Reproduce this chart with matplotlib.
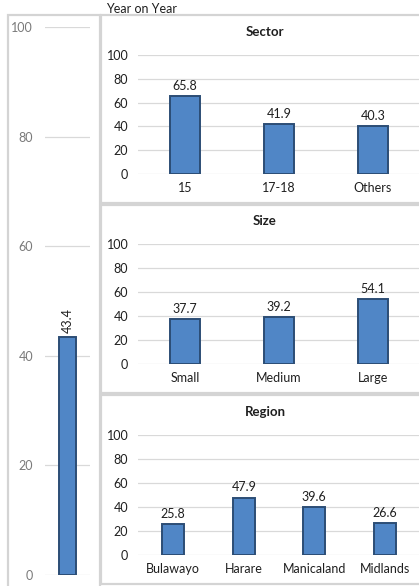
import matplotlib
matplotlib.use("Agg")
import matplotlib.pyplot as plt
from matplotlib.patches import Rectangle

plt.rcParams['font.family'] = ['Lato', 'DejaVu Sans']

# Data
overall_value = 43.4
overall_ticks = [0, 20, 40, 60, 80, 100]

sector_labels = ["15", "17-18", "Others"]
sector_values = [65.8, 41.9, 40.3]

size_labels = ["Small", "Medium", "Large"]
size_values = [37.7, 39.2, 54.1]

region_labels = ["Bulawayo", "Harare", "Manicaland", "Midlands"]
region_values = [25.8, 47.9, 39.6, 26.6]

panel_ticks = [0, 20, 40, 60, 80, 100]

W, H = 419, 586
fig = plt.figure(figsize=(W / 100, H / 100), dpi=100)

BAR_FACE = "#5086C6"
BAR_EDGE = "#2C4D75"
GRID = "#D9D9D9"
BORDER = "#D4D4D4"
TEXT = "#1F1F1F"
FS = 9


def fx(px):
    return px / W


def fy(py):
    return (H - py) / H


def panel(x0, y0, x1, y1):
    fig.add_artist(Rectangle((fx(x0), fy(y1)), fx(x1) - fx(x0), fy(y0) - fy(y1),
                             transform=fig.transFigure, fill=False,
                             edgecolor=BORDER, linewidth=1.6, zorder=0))


def style_axis(ax, tick_color, pad):
    ax.set_ylim(0, 100)
    ax.set_yticks(panel_ticks)
    ax.grid(axis="y", color=GRID, linewidth=0.9)
    ax.set_axisbelow(True)
    for s in ax.spines.values():
        s.set_visible(False)
    ax.tick_params(axis="y", length=0, pad=pad, labelsize=FS, labelcolor=tick_color)
    ax.tick_params(axis="x", length=0, pad=6, labelsize=FS, labelcolor=TEXT)


def draw_bars(ax, x, values, width):
    ax.bar(x, values, width=width, color=BAR_FACE, edgecolor=BAR_EDGE, linewidth=1.4)


# Panel frames
panel(8, 15, 100, 600)
panel(101, 15, 432, 203)
panel(101, 205, 432, 393)
panel(101, 395, 432, 584)

# Overall column
ax0 = fig.add_axes([fx(45), fy(575), fx(90) - fx(45), fy(27) - fy(575)])
style_axis(ax0, "#7A7A7A", 8.5)
ax0.set_yticks(overall_ticks)
ax0.set_xlim(-0.5, 0.5)
draw_bars(ax0, [0], [overall_value], 0.36)
ax0.set_xticks([])
ax0.annotate(f"{overall_value:.1f}", (0, overall_value), xytext=(0, 3),
             textcoords="offset points", rotation=90, ha="center", va="bottom",
             fontsize=FS, color=TEXT)
fig.text(fx(106), fy(9), "Year on Year", fontsize=FS, color=TEXT, va="center", ha="left")


def sub_chart(top, bottom, title, title_y, labels, values):
    ax = fig.add_axes([fx(138), fy(bottom), fx(420) - fx(138), fy(top) - fy(bottom)])
    style_axis(ax, TEXT, 7)
    x = list(range(len(labels)))
    draw_bars(ax, x, values, 0.31)
    ax.set_xlim(-0.5, len(labels) - 0.5)
    ax.set_xticks(x)
    ax.set_xticklabels(labels)
    for xi, v in zip(x, values):
        ax.annotate(f"{v:.1f}", (xi, v), xytext=(0, 3), textcoords="offset points",
                    ha="center", va="bottom", fontsize=FS, color=TEXT)
    fig.text(fx(265), fy(title_y), title, fontsize=9.5, fontweight="bold",
             color=TEXT, ha="center", va="center")
    return ax


sub_chart(55, 174, "Sector", 32, sector_labels, sector_values)
sub_chart(244, 364, "Size", 221, size_labels, size_values)
sub_chart(435, 555, "Region", 412, region_labels, region_values)

fig.savefig("out.png", dpi=100)
